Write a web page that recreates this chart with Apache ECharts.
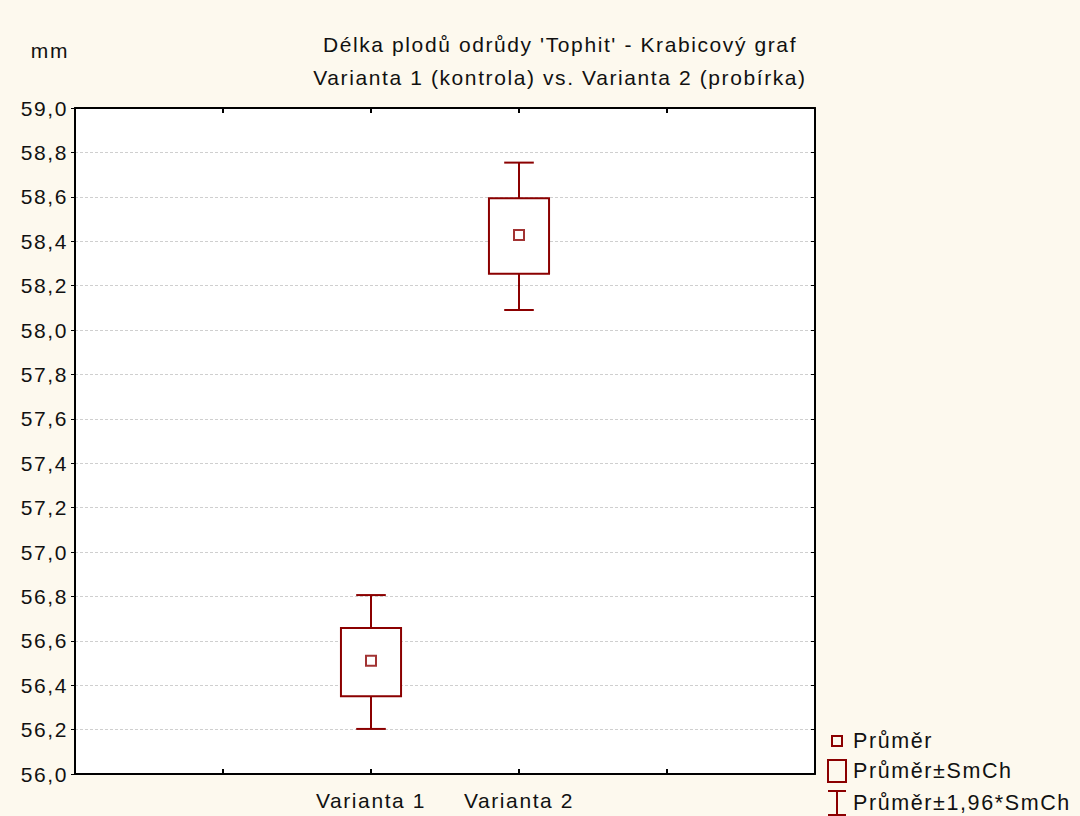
<!DOCTYPE html>
<html>
<head>
<meta charset="utf-8">
<script src="https://cdn.jsdelivr.net/npm/echarts@6/dist/echarts.min.js"></script>
<style>
  html, body { margin: 0; padding: 0; background: #FDF9EE; }
  #chart { width: 1080px; height: 816px; }
  #chart svg text { letter-spacing: 1.6px; }
</style>
</head>
<body>
<div id="chart"></div>
<script>
// ---- data ----
var categories = ['Varianta 1', 'Varianta 2'];
var categoryPos = [2, 3];
var means = [56.51, 58.428];
var seLow = [56.350, 58.253];
var seHigh = [56.658, 58.593];
var ciLow = [56.203, 58.090];
var ciHigh = [56.806, 58.754];
var titleLines = ["Délka plodů odrůdy 'Tophit' - Krabicový graf", "Varianta 1 (kontrola) vs. Varianta 2 (probírka)"];
var legendNames = ['Průměr', 'Průměr±SmCh', 'Průměr±1,96*SmCh'];
var yUnit = 'mm';

var RED = '#8B0000';
var FONT = 'Liberation Sans, Arial, sans-serif';

var meanData = categoryPos.map(function (x, i) { return [x, means[i]]; });
var boxData = categoryPos.map(function (x, i) { return [x, seLow[i], seHigh[i]]; });
var whiskerData = categoryPos.map(function (x, i) { return [x, ciLow[i], ciHigh[i]]; });

function labelFor(v) {
  var idx = categoryPos.indexOf(Math.round(v));
  return (idx >= 0 && Math.abs(v - categoryPos[idx]) < 1e-6) ? categories[idx] : '';
}

var chart = echarts.init(document.getElementById('chart'), null, { renderer: 'svg' });

var legendX = 828, legendY = [741, 771, 803];

var option = {
  backgroundColor: '#FDF9EE',
  animation: false,
  textStyle: { fontFamily: FONT },
  title: {
    text: titleLines.join('\n'),
    left: 555,
    top: 23,
    textAlign: 'center',
    textStyle: { fontFamily: FONT, fontSize: 21, fontWeight: 'normal', color: '#111', lineHeight: 33 }
  },
  grid: {
    left: 75, right: 265, top: 108, bottom: 42,
    show: true, backgroundColor: '#ffffff', borderColor: '#000', borderWidth: 0
  },
  xAxis: [{
    type: 'value', min: 0, max: 5, interval: 1, position: 'bottom',
    axisLine: { show: true, onZero: false, lineStyle: { color: '#000', width: 2 } },
    axisTick: { show: true, inside: true, length: 5, lineStyle: { color: '#000', width: 2 } },
    splitLine: { show: false },
    axisLabel: { formatter: labelFor, fontSize: 21, color: '#111', fontFamily: FONT, margin: 16, showMinLabel: false, showMaxLabel: false }
  }, {
    type: 'value', min: 0, max: 5, interval: 1, position: 'top',
    axisLine: { show: true, onZero: false, lineStyle: { color: '#000', width: 2 } },
    axisTick: { show: true, inside: true, length: 5, lineStyle: { color: '#000', width: 2 } },
    splitLine: { show: false },
    axisLabel: { show: false }
  }],
  yAxis: [{
    type: 'value', min: 56, max: 59, interval: 0.2, position: 'left',
    name: yUnit,
    nameLocation: 'end',
    nameGap: 58,
    nameTextStyle: { fontSize: 21, color: '#111', fontFamily: FONT, align: 'right', verticalAlign: 'middle', padding: [0, 6, 0, 0] },
    axisLine: { show: true, onZero: false, lineStyle: { color: '#000', width: 2 } },
    axisTick: { show: true, inside: false, length: 4, lineStyle: { color: '#000', width: 1 } },
    splitLine: { show: true, lineStyle: { color: '#cfcfcf', type: [3, 2], width: 1 } },
    axisLabel: {
      fontSize: 21, color: '#111', fontFamily: FONT, margin: 7,
      formatter: function (v) { return v.toFixed(1).replace('.', ','); }
    }
  }, {
    type: 'value', min: 56, max: 59, interval: 0.2, position: 'right',
    axisLine: { show: true, onZero: false, lineStyle: { color: '#000', width: 2 } },
    axisTick: { show: true, inside: true, length: 4, lineStyle: { color: '#000', width: 1 } },
    splitLine: { show: false },
    axisLabel: { show: false }
  }],
  series: [{
    name: legendNames[2],
    type: 'custom',
    xAxisIndex: 0, yAxisIndex: 0,
    data: whiskerData,
    z: 2,
    renderItem: function (params, api) {
      var x = api.value(0);
      var lo = api.coord([x, api.value(1)]);
      var hi = api.coord([x, api.value(2)]);
      var half = api.size([1, 0])[0] * 0.1;
      return {
        type: 'group',
        children: [
          { type: 'line', shape: { x1: lo[0], y1: lo[1], x2: hi[0], y2: hi[1] }, style: { stroke: RED, lineWidth: 2 } },
          { type: 'line', shape: { x1: lo[0] - half, y1: lo[1], x2: lo[0] + half, y2: lo[1] }, style: { stroke: RED, lineWidth: 2 } },
          { type: 'line', shape: { x1: hi[0] - half, y1: hi[1], x2: hi[0] + half, y2: hi[1] }, style: { stroke: RED, lineWidth: 2 } }
        ]
      };
    }
  }, {
    name: legendNames[1],
    type: 'custom',
    xAxisIndex: 0, yAxisIndex: 0,
    data: boxData,
    z: 3,
    renderItem: function (params, api) {
      var x = api.value(0);
      var lo = api.coord([x, api.value(1)]);
      var hi = api.coord([x, api.value(2)]);
      var half = api.size([1, 0])[0] * 0.203;
      return {
        type: 'rect',
        shape: { x: lo[0] - half, y: hi[1], width: half * 2, height: lo[1] - hi[1] },
        style: { fill: '#ffffff', stroke: RED, lineWidth: 2 }
      };
    }
  }, {
    name: legendNames[0],
    type: 'scatter',
    xAxisIndex: 0, yAxisIndex: 0,
    data: meanData,
    z: 4,
    symbol: 'rect',
    symbolSize: 10,
    itemStyle: { color: '#ffffff', borderColor: RED, borderWidth: 2 }
  }],
  graphic: [
    { type: 'rect', shape: { x: legendX + 4, y: legendY[0] - 5, width: 10, height: 10 }, style: { fill: 'none', stroke: RED, lineWidth: 2 } },
    { type: 'text', x: legendX + 25, y: legendY[0], style: { text: legendNames[0], font: '21.5px ' + FONT, fill: '#111', textVerticalAlign: 'middle' } },
    { type: 'rect', shape: { x: legendX, y: legendY[1] - 11, width: 18, height: 22 }, style: { fill: 'none', stroke: RED, lineWidth: 2 } },
    { type: 'text', x: legendX + 25, y: legendY[1], style: { text: legendNames[1], font: '21.5px ' + FONT, fill: '#111', textVerticalAlign: 'middle' } },
    { type: 'polyline', shape: { points: [[legendX, legendY[2] - 12], [legendX + 18, legendY[2] - 12]] }, style: { stroke: RED, lineWidth: 2 } },
    { type: 'polyline', shape: { points: [[legendX + 9, legendY[2] - 12], [legendX + 9, legendY[2] + 12]] }, style: { stroke: RED, lineWidth: 2 } },
    { type: 'polyline', shape: { points: [[legendX, legendY[2] + 12], [legendX + 18, legendY[2] + 12]] }, style: { stroke: RED, lineWidth: 2 } },
    { type: 'text', x: legendX + 25, y: legendY[2], style: { text: legendNames[2], font: '21.5px ' + FONT, fill: '#111', textVerticalAlign: 'middle' } }
  ]
};

chart.setOption(option);
</script>
</body>
</html>
